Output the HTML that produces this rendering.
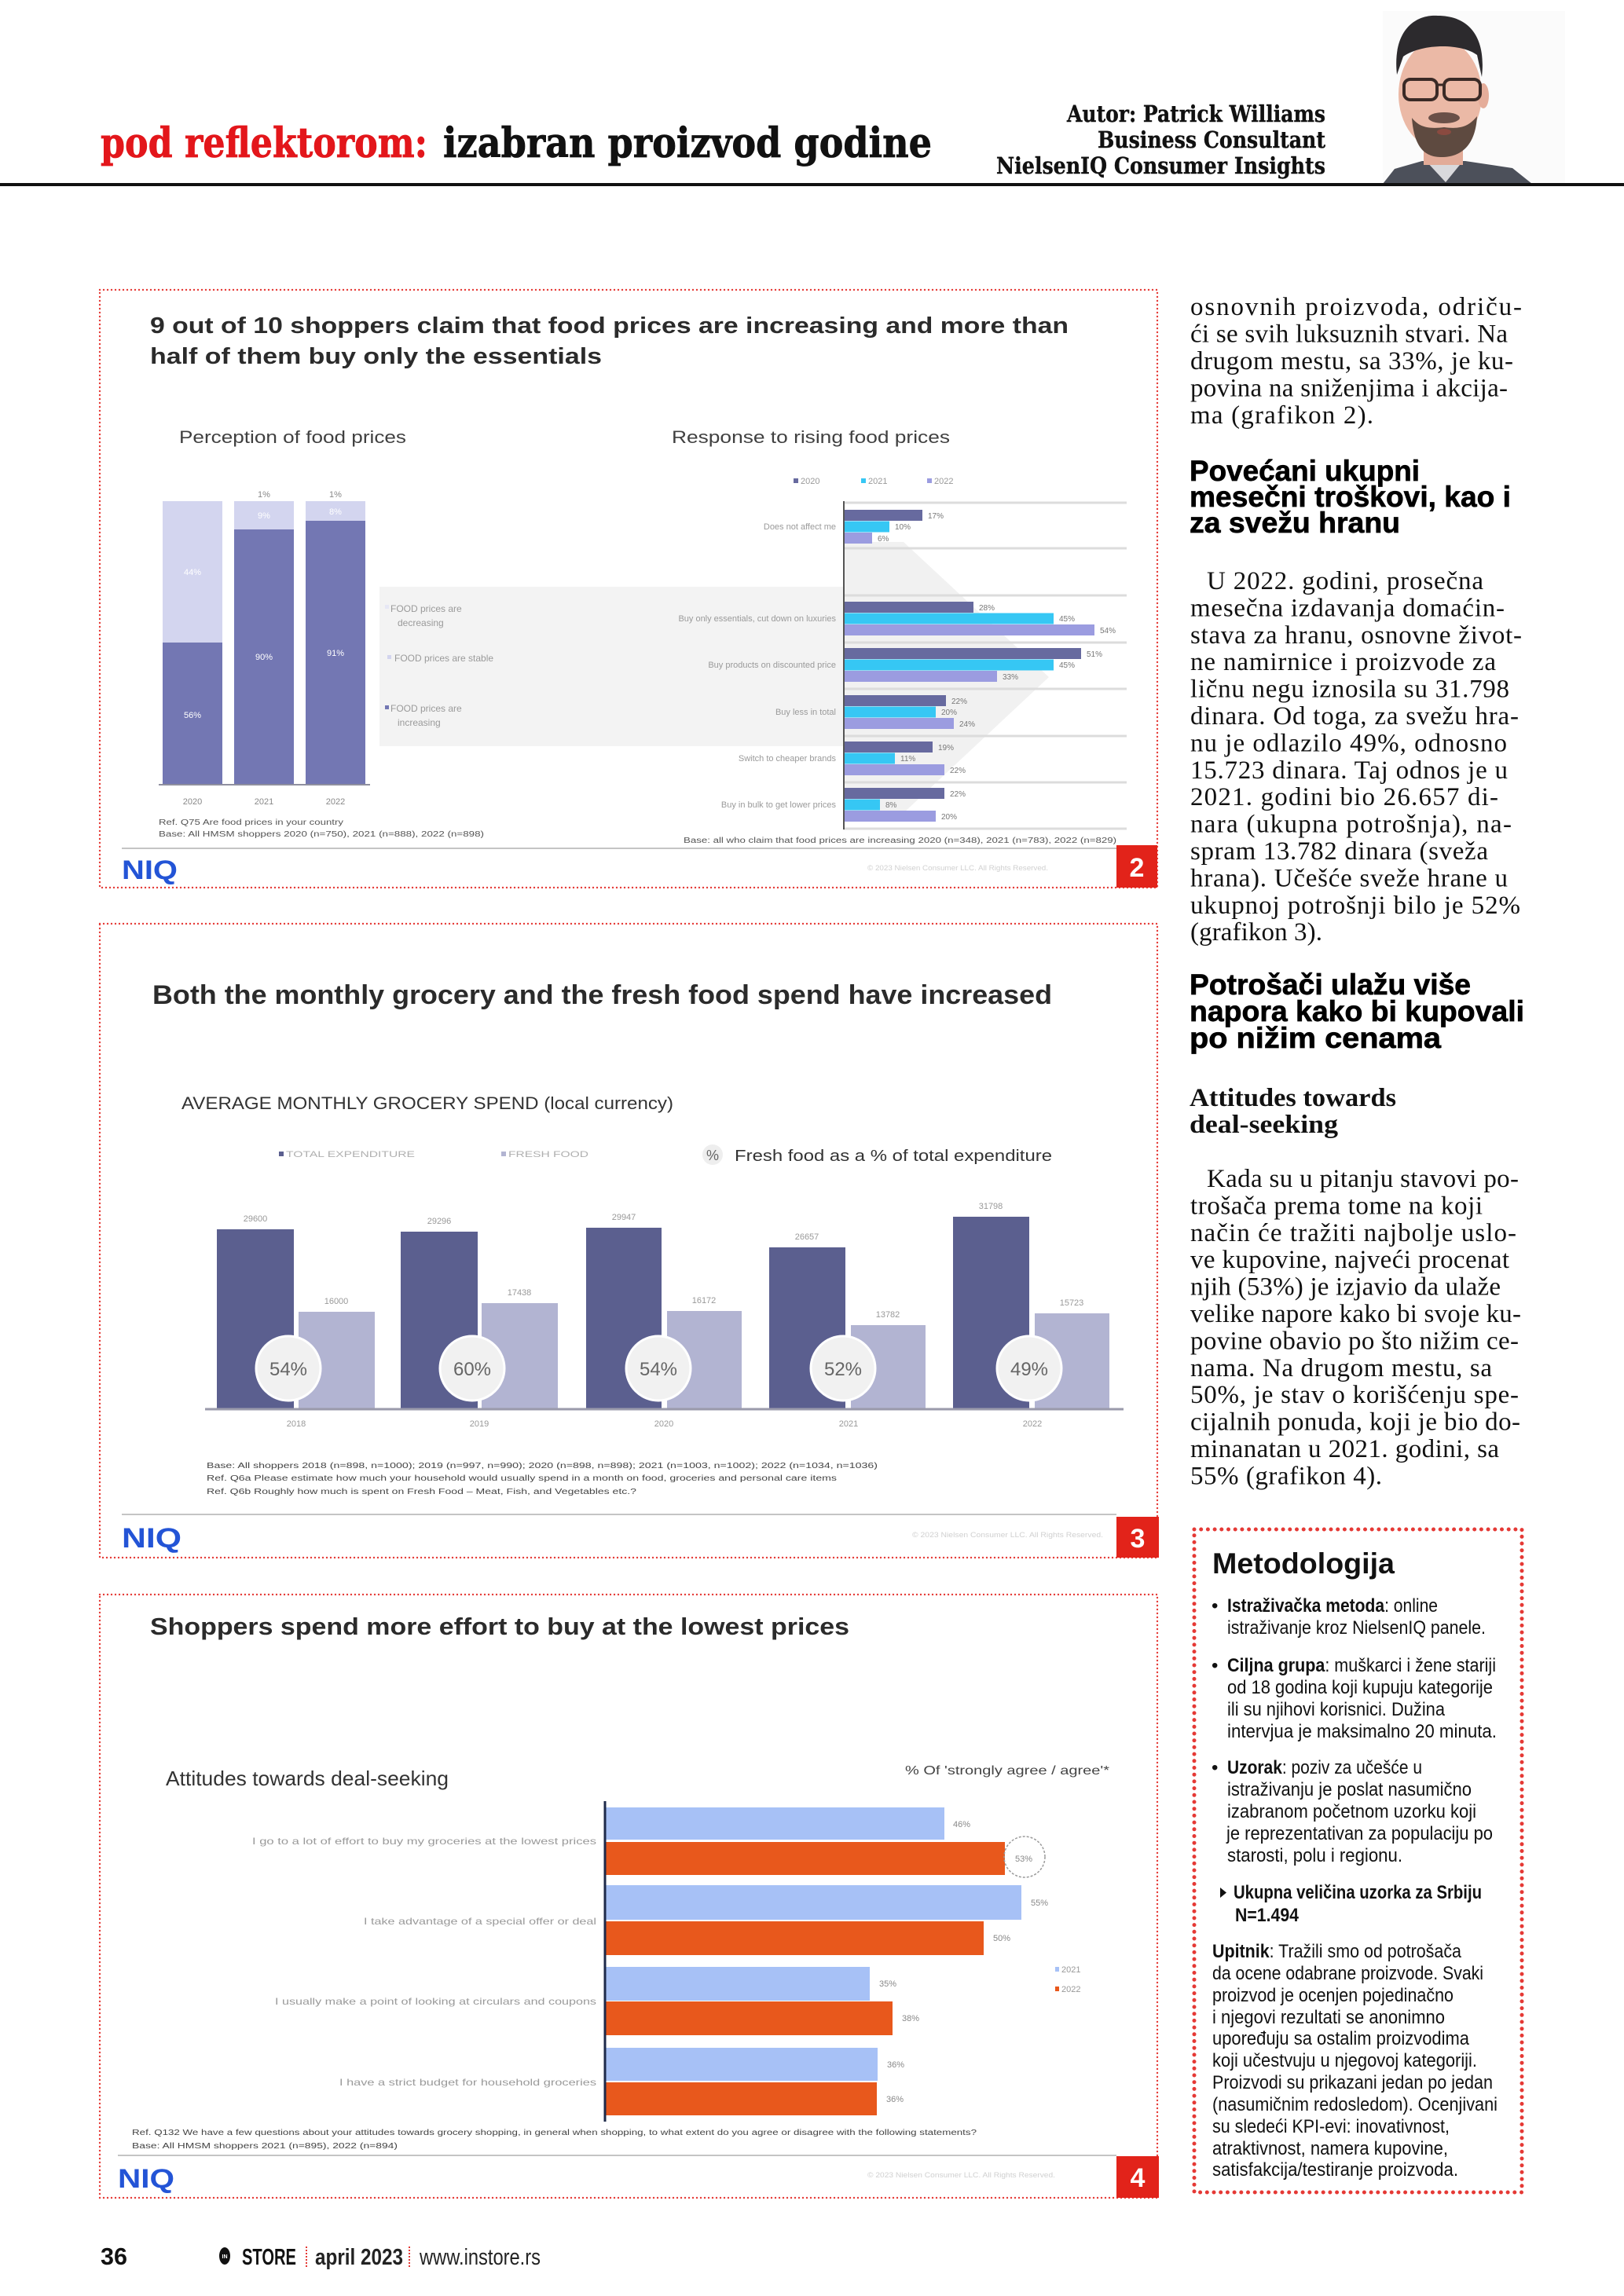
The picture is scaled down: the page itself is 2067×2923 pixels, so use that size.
<!DOCTYPE html>
<html><head><meta charset="utf-8"><title>pod reflektorom</title>
<style>html,body{margin:0;padding:0;background:#fff}svg{display:block}</style></head>
<body>
<svg xmlns="http://www.w3.org/2000/svg" width="2067" height="2923" viewBox="0 0 2067 2923">
<rect x="0" y="0" width="2067" height="2923" fill="#fff"/>

<!-- HEADER -->
<g font-family="'DejaVu Serif','Liberation Serif',serif" font-weight="bold">
<text x="128" y="200" font-size="52" fill="#e3161b" stroke="#e3161b" stroke-width="0.8" textLength="416" lengthAdjust="spacingAndGlyphs">pod reflektorom:</text>
<text x="564" y="200" font-size="52" fill="#111" stroke="#111" stroke-width="0.8" textLength="622" lengthAdjust="spacingAndGlyphs">izabran proizvod godine</text>
<text x="1358" y="155" font-size="29" fill="#111" stroke="#111" stroke-width="0.4" textLength="329" lengthAdjust="spacingAndGlyphs">Autor: Patrick Williams</text>
<text x="1397" y="188" font-size="29" fill="#111" stroke="#111" stroke-width="0.4" textLength="290" lengthAdjust="spacingAndGlyphs">Business Consultant</text>
<text x="1268" y="221" font-size="29" fill="#111" stroke="#111" stroke-width="0.4" textLength="419" lengthAdjust="spacingAndGlyphs">NielsenIQ Consumer Insights</text>
</g>
<!-- photo -->
<rect x="1760" y="14" width="232" height="220" fill="#fbfbfb"/>
<polygon points="1760,234 1775,215 1810,205 1865,205 1925,214 1950,234" fill="#4c505a"/>
<polygon points="1815,205 1840,232 1862,205" fill="#d9d9dc"/>
<rect x="1812" y="180" width="50" height="30" fill="#e2ab98"/>
<ellipse cx="1833" cy="120" rx="53" ry="70" fill="#ebb9a6"/>
<path d="M1778,95 C1772,40 1800,18 1830,20 C1868,20 1892,45 1886,98 L1880,70 C1860,55 1810,55 1786,72 Z" fill="#2c2a2d"/>
<ellipse cx="1888" cy="122" rx="7" ry="16" fill="#e5ad9a"/>
<rect x="1787" y="101" width="42" height="26" rx="8" fill="none" stroke="#3a2a26" stroke-width="4"/>
<rect x="1838" y="101" width="46" height="26" rx="8" fill="none" stroke="#3a2a26" stroke-width="4"/>
<line x1="1829" y1="108" x2="1838" y2="108" stroke="#3a2a26" stroke-width="3"/>
<path d="M1797,150 C1800,190 1815,200 1835,200 C1860,200 1878,185 1880,148 C1870,160 1860,165 1838,162 C1815,165 1805,160 1797,150 Z" fill="#5e4a40"/>
<ellipse cx="1838" cy="150" rx="20" ry="7" fill="#6a5048"/>
<ellipse cx="1838" cy="168" rx="9" ry="4" fill="#8a4a40"/>
<!-- header rule -->
<rect x="0" y="233" width="2067" height="4" fill="#111"/>

<!-- ================= CHART 2 ================= -->
<g font-family="'Liberation Sans',sans-serif">
<rect x="127" y="369" width="1346" height="761" fill="none" stroke="#e53935" stroke-width="2.4" stroke-dasharray="0 5" stroke-linecap="round"/>
<text x="191" y="424" font-size="29" font-weight="bold" fill="#2b2b2b" textLength="1169" lengthAdjust="spacingAndGlyphs">9 out of 10 shoppers claim that food prices are increasing and more than</text>
<text x="191" y="463" font-size="29" font-weight="bold" fill="#2b2b2b" textLength="575" lengthAdjust="spacingAndGlyphs">half of them buy only the essentials</text>
<text x="228" y="564" font-size="22" fill="#404040" textLength="289" lengthAdjust="spacingAndGlyphs">Perception of food prices</text>
<text x="855" y="564" font-size="22" fill="#404040" textLength="354" lengthAdjust="spacingAndGlyphs">Response to rising food prices</text>

<!-- arrow + panel -->
<polygon points="1074,690 1150,690 1335,862 1150,1035 1074,1035" fill="#f1f1f1"/>
<rect x="483" y="747" width="591" height="203" fill="#f3f3f3"/>
<rect x="490" y="770" width="5" height="5" fill="#e6e7f5"/>
<text x="497" y="779" font-size="12" fill="#9a9a9a">FOOD prices are</text>
<text x="506" y="797" font-size="12" fill="#9a9a9a">decreasing</text>
<rect x="493" y="834" width="5" height="5" fill="#d2d4ee"/>
<text x="502" y="842" font-size="12" fill="#9a9a9a">FOOD prices are stable</text>
<rect x="490" y="898" width="5" height="5" fill="#7377b3"/>
<text x="497" y="906" font-size="12" fill="#9a9a9a">FOOD prices are</text>
<text x="506" y="924" font-size="12" fill="#9a9a9a">increasing</text>

<!-- left stacked bars -->
<rect x="207" y="638" width="76" height="180" fill="#d3d5ef"/>
<rect x="207" y="818" width="76" height="181" fill="#7377b3"/>
<rect x="298" y="638" width="76" height="36" fill="#d3d5ef"/>
<rect x="298" y="674" width="76" height="325" fill="#7377b3"/>
<rect x="389" y="638" width="76" height="25" fill="#d3d5ef"/>
<rect x="389" y="663" width="76" height="336" fill="#7377b3"/>
<line x1="202" y1="999" x2="471" y2="999" stroke="#8f8f9f" stroke-width="2"/>
<g font-size="11" fill="#fff" text-anchor="middle">
<text x="245" y="732">44%</text><text x="245" y="914">56%</text>
<text x="336" y="660">9%</text><text x="336" y="840">90%</text>
<text x="427" y="655">8%</text><text x="427" y="835">91%</text>
</g>
<g font-size="11" fill="#888" text-anchor="middle">
<text x="336" y="633">1%</text><text x="427" y="633">1%</text>
<text x="245" y="1024">2020</text><text x="336" y="1024">2021</text><text x="427" y="1024">2022</text>
</g>
<text x="202" y="1050" font-size="10" fill="#555" textLength="235" lengthAdjust="spacingAndGlyphs">Ref. Q75 Are food prices in your country</text>
<text x="202" y="1065" font-size="10" fill="#555" textLength="414" lengthAdjust="spacingAndGlyphs">Base: All HMSM shoppers 2020 (n=750), 2021 (n=888), 2022 (n=898)</text>

<!-- legend right -->
<g font-size="11" fill="#999">
<rect x="1010" y="609" width="6" height="6" fill="#676a9f"/><text x="1019" y="616">2020</text>
<rect x="1096" y="609" width="6" height="6" fill="#36c7f4"/><text x="1105" y="616">2021</text>
<rect x="1180" y="609" width="6" height="6" fill="#9b9ce0"/><text x="1189" y="616">2022</text>
</g>
<!-- gridlines -->
<g stroke="#dcdcdc" stroke-width="3">
<line x1="1074" y1="640" x2="1434" y2="640"/><line x1="1074" y1="698" x2="1434" y2="698"/>
<line x1="1074" y1="758" x2="1434" y2="758"/><line x1="1074" y1="818" x2="1434" y2="818"/>
<line x1="1074" y1="877" x2="1434" y2="877"/><line x1="1074" y1="937" x2="1434" y2="937"/>
<line x1="1074" y1="996" x2="1434" y2="996"/><line x1="1074" y1="1055" x2="1434" y2="1055"/>
</g>
<!-- bars -->
<g>
<rect x="1074" y="649" width="100" height="14" fill="#676a9f"/><rect x="1074" y="663.5" width="58" height="14" fill="#36c7f4"/><rect x="1074" y="678" width="36" height="14" fill="#9b9ce0"/>
<rect x="1074" y="766" width="165" height="14" fill="#676a9f"/><rect x="1074" y="780.5" width="267" height="14" fill="#36c7f4"/><rect x="1074" y="795" width="319" height="14" fill="#9b9ce0"/>
<rect x="1074" y="825" width="302" height="14" fill="#676a9f"/><rect x="1074" y="839.5" width="267" height="14" fill="#36c7f4"/><rect x="1074" y="854" width="195" height="14" fill="#9b9ce0"/>
<rect x="1074" y="885" width="130" height="14" fill="#676a9f"/><rect x="1074" y="899.5" width="117" height="14" fill="#36c7f4"/><rect x="1074" y="914" width="140" height="14" fill="#9b9ce0"/>
<rect x="1074" y="944" width="113" height="14" fill="#676a9f"/><rect x="1074" y="958.5" width="65" height="14" fill="#36c7f4"/><rect x="1074" y="973" width="128" height="14" fill="#9b9ce0"/>
<rect x="1074" y="1003" width="128" height="14" fill="#676a9f"/><rect x="1074" y="1017.5" width="46" height="14" fill="#36c7f4"/><rect x="1074" y="1032" width="117" height="14" fill="#9b9ce0"/>
</g>
<line x1="1074" y1="638" x2="1074" y2="1056" stroke="#555" stroke-width="2"/>
<g font-size="10" fill="#777">
<text x="1181" y="660">17%</text><text x="1139" y="674">10%</text><text x="1117" y="689">6%</text>
<text x="1246" y="777">28%</text><text x="1348" y="791">45%</text><text x="1400" y="806">54%</text>
<text x="1383" y="836">51%</text><text x="1348" y="850">45%</text><text x="1276" y="865">33%</text>
<text x="1211" y="896">22%</text><text x="1198" y="910">20%</text><text x="1221" y="925">24%</text>
<text x="1194" y="955">19%</text><text x="1146" y="969">11%</text><text x="1209" y="984">22%</text>
<text x="1209" y="1014">22%</text><text x="1127" y="1028">8%</text><text x="1198" y="1043">20%</text>
</g>
<g font-size="11" fill="#9a9a9a" text-anchor="end">
<text x="1064" y="674">Does not affect me</text>
<text x="1064" y="791">Buy only essentials, cut down on luxuries</text>
<text x="1064" y="850">Buy products on discounted price</text>
<text x="1064" y="910">Buy less in total</text>
<text x="1064" y="969">Switch to cheaper brands</text>
<text x="1064" y="1028">Buy in bulk to get lower prices</text>
</g>
<text x="870" y="1073" font-size="10" fill="#555" textLength="551" lengthAdjust="spacingAndGlyphs">Base: all who claim that food prices are increasing 2020 (n=348), 2021 (n=783), 2022 (n=829)</text>
<line x1="155" y1="1080" x2="1438" y2="1080" stroke="#c4c4c4" stroke-width="2"/>
<text x="155" y="1119" font-size="34" font-weight="bold" fill="#2354d6" textLength="71" lengthAdjust="spacingAndGlyphs">NIQ</text>
<text x="1104" y="1108" font-size="9" fill="#d0d0d0" textLength="230" lengthAdjust="spacingAndGlyphs">© 2023 Nielsen Consumer LLC. All Rights Reserved.</text>
<rect x="1421" y="1076" width="52" height="54" fill="#e2231a"/>
<text x="1447" y="1116" font-size="34" font-weight="bold" fill="#fff" text-anchor="middle">2</text>
</g>

<!-- ================= CHART 3 ================= -->
<g font-family="'Liberation Sans',sans-serif">
<rect x="127" y="1176" width="1346" height="807" fill="none" stroke="#e53935" stroke-width="2.4" stroke-dasharray="0 5" stroke-linecap="round"/>
<text x="194" y="1278" font-size="34" font-weight="bold" fill="#2b2b2b" textLength="1145" lengthAdjust="spacingAndGlyphs">Both the monthly grocery and the fresh food spend have increased</text>
<text x="231" y="1412" font-size="22" fill="#333" textLength="626" lengthAdjust="spacingAndGlyphs">AVERAGE  MONTHLY  GROCERY  SPEND (local currency)</text>
<rect x="355" y="1466" width="6" height="6" fill="#5b5f8f"/>
<text x="364" y="1473" font-size="11" fill="#b0b0b0" textLength="164" lengthAdjust="spacingAndGlyphs">TOTAL EXPENDITURE</text>
<rect x="638" y="1466" width="6" height="6" fill="#b2b4d2"/>
<text x="647" y="1473" font-size="11" fill="#b0b0b0" textLength="102" lengthAdjust="spacingAndGlyphs">FRESH FOOD</text>
<circle cx="907" cy="1470" r="13" fill="#eeeeee"/>
<text x="907" y="1477" font-size="18" fill="#666" text-anchor="middle">%</text>
<text x="935" y="1478" font-size="20" fill="#333" textLength="404" lengthAdjust="spacingAndGlyphs">Fresh food as a % of total expenditure</text>

<g>
<rect x="276" y="1565" width="98" height="228" fill="#5b5f8f"/><rect x="380" y="1670" width="97" height="123" fill="#b2b4d2"/>
<rect x="510" y="1568" width="98" height="225" fill="#5b5f8f"/><rect x="613" y="1659" width="97" height="134" fill="#b2b4d2"/>
<rect x="746" y="1563" width="96" height="230" fill="#5b5f8f"/><rect x="849" y="1669" width="95" height="124" fill="#b2b4d2"/>
<rect x="979" y="1588" width="97" height="205" fill="#5b5f8f"/><rect x="1083" y="1687" width="95" height="106" fill="#b2b4d2"/>
<rect x="1213" y="1549" width="97" height="244" fill="#5b5f8f"/><rect x="1317" y="1672" width="95" height="121" fill="#b2b4d2"/>
</g>
<line x1="261" y1="1794" x2="1430" y2="1794" stroke="#9a9aab" stroke-width="3"/>
<g font-size="11" fill="#999" text-anchor="middle">
<text x="325" y="1555">29600</text><text x="428" y="1660">16000</text>
<text x="559" y="1558">29296</text><text x="661" y="1649">17438</text>
<text x="794" y="1553">29947</text><text x="896" y="1659">16172</text>
<text x="1027" y="1578">26657</text><text x="1130" y="1677">13782</text>
<text x="1261" y="1539">31798</text><text x="1364" y="1662">15723</text>
<text x="377" y="1816">2018</text><text x="610" y="1816">2019</text><text x="845" y="1816">2020</text><text x="1080" y="1816">2021</text><text x="1314" y="1816">2022</text>
</g>
<g fill="#f1f1f1" stroke="#fff" stroke-width="3">
<circle cx="367" cy="1742" r="41"/><circle cx="601" cy="1742" r="41"/><circle cx="838" cy="1742" r="41"/><circle cx="1073" cy="1742" r="41"/><circle cx="1310" cy="1742" r="41"/>
</g>
<g font-size="24" fill="#666" text-anchor="middle">
<text x="367" y="1751">54%</text><text x="601" y="1751">60%</text><text x="838" y="1751">54%</text><text x="1073" y="1751">52%</text><text x="1310" y="1751">49%</text>
</g>
<text x="263" y="1869" font-size="10" fill="#444" textLength="854" lengthAdjust="spacingAndGlyphs">Base: All shoppers 2018 (n=898, n=1000); 2019 (n=997, n=990); 2020 (n=898, n=898); 2021 (n=1003, n=1002); 2022 (n=1034, n=1036)</text>
<text x="263" y="1885" font-size="10" fill="#444" textLength="802" lengthAdjust="spacingAndGlyphs">Ref. Q6a Please estimate how much your household would usually spend in a month on food, groceries and personal care items</text>
<text x="263" y="1902" font-size="10" fill="#444" textLength="547" lengthAdjust="spacingAndGlyphs">Ref. Q6b Roughly how much is spent on Fresh Food – Meat, Fish, and Vegetables etc.?</text>
<line x1="155" y1="1928" x2="1421" y2="1928" stroke="#c4c4c4" stroke-width="2"/>
<text x="155" y="1970" font-size="35" font-weight="bold" fill="#2354d6" textLength="76" lengthAdjust="spacingAndGlyphs">NIQ</text>
<text x="1161" y="1957" font-size="9" fill="#d0d0d0" textLength="243" lengthAdjust="spacingAndGlyphs">© 2023 Nielsen Consumer LLC. All Rights Reserved.</text>
<rect x="1421" y="1931" width="54" height="52" fill="#e2231a"/>
<text x="1448" y="1970" font-size="34" font-weight="bold" fill="#fff" text-anchor="middle">3</text>
</g>

<!-- ================= CHART 4 ================= -->
<g font-family="'Liberation Sans',sans-serif">
<rect x="127" y="2030" width="1346" height="768" fill="none" stroke="#e53935" stroke-width="2.4" stroke-dasharray="0 5" stroke-linecap="round"/>
<text x="191" y="2081" font-size="31" font-weight="bold" fill="#2b2b2b" textLength="890" lengthAdjust="spacingAndGlyphs">Shoppers spend more effort to buy at the lowest prices</text>
<text x="211" y="2273" font-size="26" fill="#333" textLength="360" lengthAdjust="spacingAndGlyphs">Attitudes towards deal-seeking</text>
<text x="1152" y="2259" font-size="16" fill="#444" textLength="260" lengthAdjust="spacingAndGlyphs">% Of 'strongly agree / agree'*</text>
<g>
<rect x="770" y="2301" width="432" height="41" fill="#a7c1f6"/><rect x="770" y="2345" width="509" height="42" fill="#e8581c"/>
<rect x="770" y="2400" width="530" height="44" fill="#a7c1f6"/><rect x="770" y="2446" width="482" height="43" fill="#e8581c"/>
<rect x="770" y="2504" width="337" height="43" fill="#a7c1f6"/><rect x="770" y="2548" width="366" height="43" fill="#e8581c"/>
<rect x="770" y="2607" width="347" height="42" fill="#a7c1f6"/><rect x="770" y="2651" width="346" height="42" fill="#e8581c"/>
</g>
<line x1="770" y1="2293" x2="770" y2="2701" stroke="#1e2a4a" stroke-width="3"/>
<circle cx="1304" cy="2364" r="26" fill="none" stroke="#9a9a9a" stroke-width="1.5" stroke-dasharray="3 2"/>
<g font-size="11" fill="#888">
<text x="1213" y="2326">46%</text><text x="1292" y="2370">53%</text>
<text x="1312" y="2426">55%</text><text x="1264" y="2471">50%</text>
<text x="1119" y="2529">35%</text><text x="1148" y="2573">38%</text>
<text x="1129" y="2632">36%</text><text x="1128" y="2676">36%</text>
</g>
<g font-size="12" fill="#9a9a9a" text-anchor="end">
<text x="759" y="2348" textLength="438" lengthAdjust="spacingAndGlyphs">I go to a lot of effort to buy my groceries at the lowest prices</text>
<text x="759" y="2450" textLength="296" lengthAdjust="spacingAndGlyphs">I take advantage of a special offer or deal</text>
<text x="759" y="2552" textLength="409" lengthAdjust="spacingAndGlyphs">I usually make a point of looking at circulars and coupons</text>
<text x="759" y="2655" textLength="327" lengthAdjust="spacingAndGlyphs">I have a strict budget for household groceries</text>
</g>
<rect x="1343" y="2504" width="5" height="6" fill="#a7c1f6"/><text x="1351" y="2511" font-size="11" fill="#999">2021</text>
<rect x="1343" y="2529" width="5" height="6" fill="#e8581c"/><text x="1351" y="2536" font-size="11" fill="#999">2022</text>
<text x="168" y="2718" font-size="10" fill="#444" textLength="1075" lengthAdjust="spacingAndGlyphs">Ref. Q132 We have a few questions about your attitudes towards grocery shopping, in general when shopping, to what extent do you agree or disagree with the following statements?</text>
<text x="168" y="2735" font-size="10" fill="#444" textLength="338" lengthAdjust="spacingAndGlyphs">Base: All HMSM shoppers 2021 (n=895), 2022 (n=894)</text>
<line x1="150" y1="2744" x2="1421" y2="2744" stroke="#c4c4c4" stroke-width="2"/>
<text x="150" y="2785" font-size="34" font-weight="bold" fill="#2354d6" textLength="72" lengthAdjust="spacingAndGlyphs">NIQ</text>
<text x="1104" y="2772" font-size="9" fill="#d0d0d0" textLength="239" lengthAdjust="spacingAndGlyphs">© 2023 Nielsen Consumer LLC. All Rights Reserved.</text>
<rect x="1421" y="2745" width="54" height="53" fill="#e2231a"/>
<text x="1448" y="2784" font-size="34" font-weight="bold" fill="#fff" text-anchor="middle">4</text>
</g>

<!-- ================= RIGHT COLUMN ================= -->
<g font-family="'Liberation Serif',serif" font-size="33" fill="#111">
<text x="1515" y="401" textLength="422">osnovnih proizvoda, odriču-</text>
<text x="1515" y="435.5" textLength="404">ći se svih luksuznih stvari. Na</text>
<text x="1515" y="470" textLength="411">drugom mestu, sa 33%, je ku-</text>
<text x="1515" y="504.5" textLength="404">povina na sniženjima i akcija-</text>
<text x="1515" y="539" textLength="233">ma (grafikon 2).</text>

<text x="1536" y="750" textLength="352">U 2022. godini, prosečna</text>
<text x="1515" y="784.4" textLength="400">mesečna izdavanja domaćin-</text>
<text x="1515" y="818.8" textLength="422">stava za hranu, osnovne život-</text>
<text x="1515" y="853.2" textLength="389">ne namirnice i proizvode za</text>
<text x="1515" y="887.6" textLength="406">ličnu negu iznosila su 31.798</text>
<text x="1515" y="922" textLength="418">dinara. Od toga, za svežu hra-</text>
<text x="1515" y="956.4" textLength="403">nu je odlazilo 49%, odnosno</text>
<text x="1515" y="990.8" textLength="404">15.723 dinara. Taj odnos je u</text>
<text x="1515" y="1025.2" textLength="392">2021. godini bio 26.657 di-</text>
<text x="1515" y="1059.6" textLength="409">nara (ukupna potrošnja), na-</text>
<text x="1515" y="1094" textLength="379">spram 13.782 dinara (sveža</text>
<text x="1515" y="1128.4" textLength="404">hrana). Učešće sveže hrane u</text>
<text x="1515" y="1162.8" textLength="420">ukupnoj potrošnji bilo je 52%</text>
<text x="1515" y="1197.2" textLength="168">(grafikon 3).</text>

<text x="1536" y="1511" textLength="397">Kada su u pitanju stavovi po-</text>
<text x="1515" y="1545.4" textLength="372">trošača prema tome na koji</text>
<text x="1515" y="1579.8" textLength="415">način će tražiti najbolje uslo-</text>
<text x="1515" y="1614.2" textLength="406">ve kupovine, najveći procenat</text>
<text x="1515" y="1648.6" textLength="395">njih (53%) je izjavio da ulaže</text>
<text x="1515" y="1683" textLength="421">velike napore kako bi svoje ku-</text>
<text x="1515" y="1717.4" textLength="418">povine obavio po što nižim ce-</text>
<text x="1515" y="1751.8" textLength="384">nama. Na drugom mestu, sa</text>
<text x="1515" y="1786.2" textLength="418">50%, je stav o korišćenju spe-</text>
<text x="1515" y="1820.6" textLength="420">cijalnih ponuda, koji je bio do-</text>
<text x="1515" y="1855" textLength="393">minanatan u 2021. godini, sa</text>
<text x="1515" y="1889.4" textLength="244">55% (grafikon 4).</text>
</g>
<g font-family="'Liberation Sans',sans-serif" font-size="37" font-weight="bold" fill="#000" stroke="#000" stroke-width="0.7">
<text x="1514" y="612" textLength="293" lengthAdjust="spacingAndGlyphs">Povećani ukupni</text>
<text x="1514" y="645" textLength="409" lengthAdjust="spacingAndGlyphs">mesečni troškovi, kao i</text>
<text x="1514" y="678" textLength="268" lengthAdjust="spacingAndGlyphs">za svežu hranu</text>
<text x="1514" y="1266" textLength="358" lengthAdjust="spacingAndGlyphs">Potrošači ulažu više</text>
<text x="1514" y="1300" textLength="426" lengthAdjust="spacingAndGlyphs">napora kako bi kupovali</text>
<text x="1514" y="1334" textLength="320" lengthAdjust="spacingAndGlyphs">po nižim cenama</text>
</g>
<g font-family="'Liberation Serif',serif" font-size="33" font-weight="bold" fill="#111">
<text x="1514" y="1408" textLength="263" lengthAdjust="spacingAndGlyphs">Attitudes towards</text>
<text x="1514" y="1442" textLength="189" lengthAdjust="spacingAndGlyphs">deal-seeking</text>
</g>

<!-- ================= METODOLOGIJA ================= -->
<rect x="1520" y="1947" width="417" height="844" fill="none" stroke="#e53935" stroke-width="5" stroke-dasharray="0 8.7" stroke-linecap="round"/>
<g font-family="'Liberation Sans',sans-serif" fill="#111">
<text x="1543" y="2003" font-size="37" font-weight="bold" textLength="232" lengthAdjust="spacingAndGlyphs">Metodologija</text>
<g font-size="24">
<text x="1542" y="2052">•</text>
<text x="1562" y="2052" textLength="268" lengthAdjust="spacingAndGlyphs"><tspan font-weight="bold">Istraživačka metoda</tspan>: online</text>
<text x="1562" y="2080" textLength="329" lengthAdjust="spacingAndGlyphs">istraživanje kroz NielsenIQ panele.</text>
<text x="1542" y="2128">•</text>
<text x="1562" y="2128" textLength="342" lengthAdjust="spacingAndGlyphs"><tspan font-weight="bold">Ciljna grupa</tspan>: muškarci i žene stariji</text>
<text x="1562" y="2156" textLength="338" lengthAdjust="spacingAndGlyphs">od 18 godina koji kupuju kategorije</text>
<text x="1562" y="2184" textLength="277" lengthAdjust="spacingAndGlyphs">ili su njihovi korisnici. Dužina</text>
<text x="1562" y="2212" textLength="343" lengthAdjust="spacingAndGlyphs">intervjua je maksimalno 20 minuta.</text>
<text x="1542" y="2258">•</text>
<text x="1562" y="2258" textLength="248" lengthAdjust="spacingAndGlyphs"><tspan font-weight="bold">Uzorak</tspan>: poziv za učešće u</text>
<text x="1562" y="2286" textLength="311" lengthAdjust="spacingAndGlyphs">istraživanju je poslat nasumično</text>
<text x="1562" y="2314" textLength="317" lengthAdjust="spacingAndGlyphs">izabranom početnom uzorku koji</text>
<text x="1561" y="2342" textLength="339" lengthAdjust="spacingAndGlyphs">je reprezentativan za populaciju po</text>
<text x="1562" y="2370" textLength="223" lengthAdjust="spacingAndGlyphs">starosti, polu i regionu.</text>
<polygon points="1553,2403 1553,2416 1561,2409.5" fill="#111"/>
<text x="1570" y="2417" font-weight="bold" textLength="316" lengthAdjust="spacingAndGlyphs">Ukupna veličina uzorka za Srbiju</text>
<text x="1572" y="2446" font-weight="bold" textLength="81" lengthAdjust="spacingAndGlyphs">N=1.494</text>
<text x="1543" y="2492" textLength="317" lengthAdjust="spacingAndGlyphs"><tspan font-weight="bold">Upitnik</tspan>: Tražili smo od potrošača</text>
<text x="1543" y="2520" textLength="345" lengthAdjust="spacingAndGlyphs">da ocene odabrane proizvode. Svaki</text>
<text x="1543" y="2548" textLength="307" lengthAdjust="spacingAndGlyphs">proizvod je ocenjen pojedinačno</text>
<text x="1543" y="2576" textLength="296" lengthAdjust="spacingAndGlyphs">i njegovi rezultati se anonimno</text>
<text x="1543" y="2603" textLength="327" lengthAdjust="spacingAndGlyphs">upoređuju sa ostalim proizvodima</text>
<text x="1543" y="2631" textLength="337" lengthAdjust="spacingAndGlyphs">koji učestvuju u njegovoj kategoriji.</text>
<text x="1543" y="2659" textLength="357" lengthAdjust="spacingAndGlyphs">Proizvodi su prikazani jedan po jedan</text>
<text x="1543" y="2687" textLength="363" lengthAdjust="spacingAndGlyphs">(nasumičnim redosledom). Ocenjivani</text>
<text x="1543" y="2715" textLength="302" lengthAdjust="spacingAndGlyphs">su sledeći KPI-evi: inovativnost,</text>
<text x="1543" y="2743" textLength="300" lengthAdjust="spacingAndGlyphs">atraktivnost, namera kupovine,</text>
<text x="1543" y="2770" textLength="313" lengthAdjust="spacingAndGlyphs">satisfakcija/testiranje proizvoda.</text>
</g>
</g>

<!-- ================= FOOTER ================= -->
<g font-family="'Liberation Sans',sans-serif" fill="#111">
<text x="128" y="2883" font-size="31" font-weight="bold" textLength="34" lengthAdjust="spacingAndGlyphs">36</text>
<ellipse cx="286" cy="2872" rx="7" ry="11" fill="#111"/>
<text x="286" y="2875" font-size="7" font-weight="bold" fill="#fff" text-anchor="middle">IN</text>
<text x="308" y="2883" font-size="29" font-weight="bold" textLength="69" lengthAdjust="spacingAndGlyphs">STORE</text>
<line x1="390" y1="2860" x2="390" y2="2886" stroke="#e53935" stroke-width="2" stroke-dasharray="2 2"/>
<text x="401" y="2883" font-size="29" font-weight="bold" fill="#222" textLength="112" lengthAdjust="spacingAndGlyphs">april 2023</text>
<line x1="521" y1="2860" x2="521" y2="2886" stroke="#e53935" stroke-width="2" stroke-dasharray="2 2"/>
<text x="534" y="2883" font-size="29" fill="#222" textLength="154" lengthAdjust="spacingAndGlyphs">www.instore.rs</text>
</g>
</svg>
</body></html>
